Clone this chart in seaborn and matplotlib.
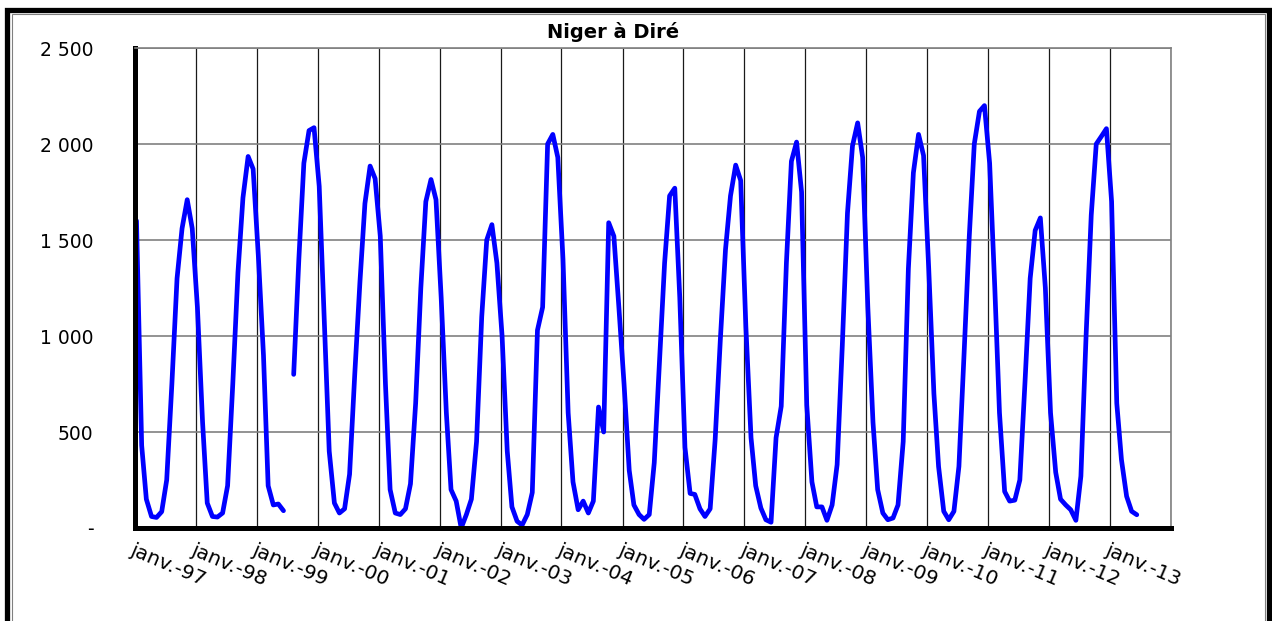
import numpy as np
import pandas as pd
import matplotlib
matplotlib.use("Agg")
import matplotlib.pyplot as plt
from matplotlib.patches import Rectangle
import seaborn as sns

# Monthly discharge (m3/s), Niger at Dire, Jan 1997 - Jun 2013
q_1997 = [1600, 430, 150, 60, 55, 85, 250, 750, 1300, 1560, 1710, 1560]
q_1998 = [1150, 550, 130, 60, 57, 78, 220, 750, 1330, 1720, 1935, 1870]
q_1999 = [1420, 900, 220, 120, 125, 90, np.nan, 800, 1400, 1900, 2070, 2085]
q_2000 = [1780, 1060, 400, 130, 78, 100, 280, 800, 1280, 1690, 1885, 1820]
q_2001 = [1520, 750, 200, 78, 70, 100, 230, 650, 1250, 1700, 1815, 1710]
q_2002 = [1200, 600, 200, 140, 0, 70, 150, 450, 1100, 1500, 1580, 1380]
q_2003 = [1000, 400, 110, 35, 15, 70, 185, 1030, 1150, 2000, 2050, 1930]
q_2004 = [1400, 600, 240, 95, 140, 78, 140, 630, 500, 1590, 1520, 1150]
q_2005 = [750, 300, 120, 70, 45, 70, 340, 860, 1380, 1730, 1770, 1200]
q_2006 = [420, 180, 175, 100, 60, 100, 460, 980, 1450, 1730, 1890, 1810]
q_2007 = [1050, 470, 220, 104, 43, 30, 470, 634, 1380, 1910, 2010, 1750]
q_2008 = [640, 240, 110, 110, 40, 120, 330, 950, 1640, 1990, 2110, 1930]
q_2009 = [1150, 550, 200, 78, 43, 52, 120, 450, 1350, 1850, 2050, 1940]
q_2010 = [1350, 700, 320, 87, 43, 87, 321, 911, 1519, 2000, 2170, 2200]
q_2011 = [1900, 1250, 600, 190, 140, 145, 250, 760, 1300, 1550, 1615, 1250]
q_2012 = [600, 290, 150, 120, 95, 40, 270, 1000, 1630, 2000, 2040, 2080]
q_2013 = [1700, 650, 356, 165, 87, 69]

years = list(range(1997, 2014))
y_ticks = [0, 500, 1000, 1500, 2000, 2500]
y_labels = ["-", "500", "1 000", "1 500", "2 000", "2 500"]
title = "Niger à Diré"

values = (q_1997 + q_1998 + q_1999 + q_2000 + q_2001 + q_2002 + q_2003 + q_2004
          + q_2005 + q_2006 + q_2007 + q_2008 + q_2009 + q_2010 + q_2011
          + q_2012 + q_2013)
dates = pd.date_range("1997-01-01", periods=len(values), freq="MS") + pd.Timedelta(days=9)

df = pd.DataFrame({"date": dates, "q": values})
# split the series where data is missing so the line shows a gap
df["seg"] = df["q"].isna().cumsum()
df = df.dropna()

sns.set_style("white")
plt.rcParams["font.family"] = ["DejaVu Sans"]
plt.rcParams["text.color"] = "black"

fig = plt.figure(figsize=(12.72, 6.21), dpi=100)
W, H = 1272, 621
ax = fig.add_axes([135 / W, 1 - 528 / H, (1171 - 135) / W, (528 - 48) / H])

sns.lineplot(data=df, x="date", y="q", units="seg", estimator=None,
             color="#0000FF", linewidth=3.4, ax=ax)

ax.set_xlim(pd.Timestamp("1997-01-01"), pd.Timestamp("2014-01-01"))
ax.set_ylim(0, 2500)

tick_dates = [pd.Timestamp(f"{y}-01-01") for y in years] + [pd.Timestamp("2014-01-01")]
tick_labels = [f"janv.-{str(y)[2:]}" for y in years] + [""]
ax.set_xticks(tick_dates)
ax.set_xticklabels(tick_labels, rotation=-23, ha="left", va="top",
                   rotation_mode="anchor", fontsize=14.5)
ax.set_yticks(y_ticks)
ax.set_yticklabels(y_labels, fontsize=13.5)

ax.set_xlabel("")
ax.set_ylabel("")

ax.set_axisbelow(True)
ax.yaxis.grid(True, color="#808080", linewidth=1.2)
ax.xaxis.grid(True, color="#1a1a1a", linewidth=0.9)

for side in ["left", "bottom"]:
    ax.spines[side].set_color("black")
    ax.spines[side].set_linewidth(3.6)
for side in ["top", "right"]:
    ax.spines[side].set_color("#808080")
    ax.spines[side].set_linewidth(1.2)

ax.tick_params(axis="both", direction="in", length=3, width=3,
               color="black", labelcolor="black")
ax.tick_params(axis="x", pad=9)
ax.tick_params(axis="y", pad=30)

fig.text(613 / W, 1 - 32 / H, title, ha="center", va="center",
         fontsize=14, fontweight="bold", color="black")

# outer frame of the chart area
fig.add_artist(Rectangle((6.5 / W, -0.05), (1268.5 - 6.5) / W, 1.05 - 10 / H,
                         transform=fig.transFigure, fill=False,
                         edgecolor="black", linewidth=3.8))
fig.add_artist(Rectangle((12 / W, -0.05), (1264.5 - 12) / W, 1.05 - 14 / H,
                         transform=fig.transFigure, fill=False,
                         edgecolor="#808080", linewidth=0.8))

fig.savefig("out.png", dpi=100)
